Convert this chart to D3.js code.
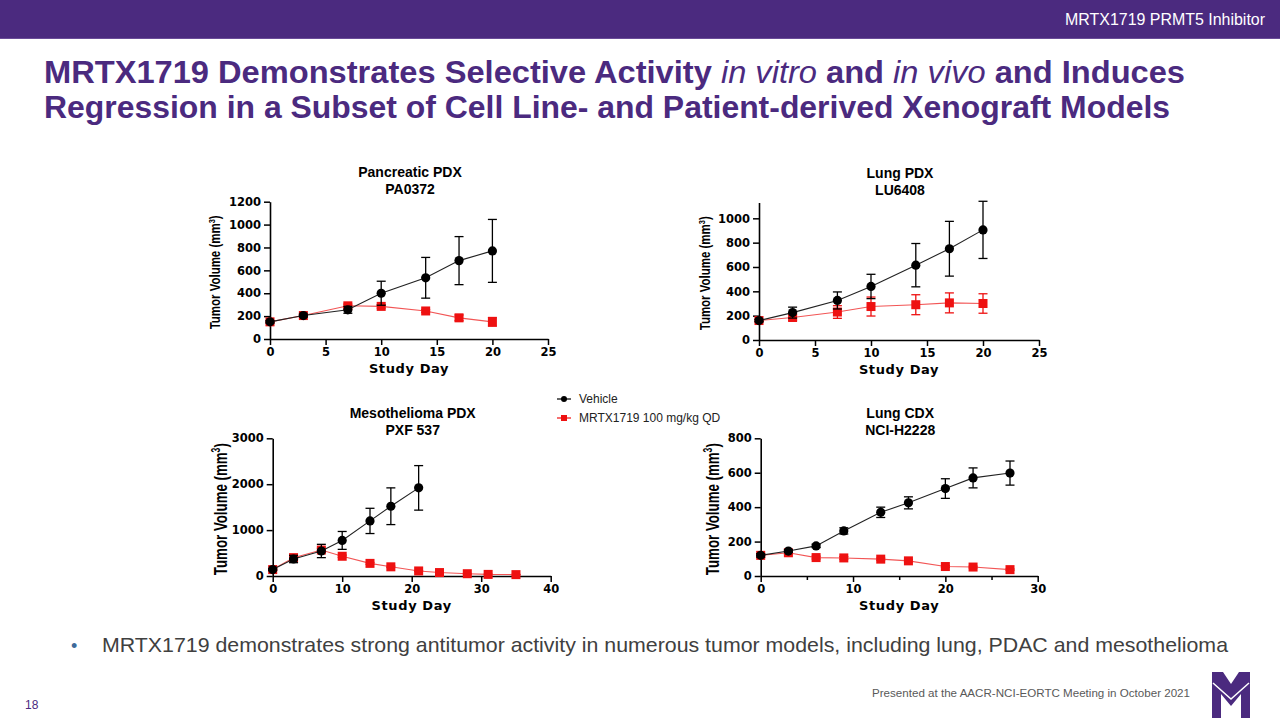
<!DOCTYPE html>
<html><head><meta charset="utf-8">
<script src="https://cdn.jsdelivr.net/npm/d3@7"></script>
<style>
html,body{margin:0;padding:0;background:#fff;}
svg{display:block;}
</style></head>
<body>
<svg id="c" width="1280" height="720"></svg>
<script>
// ---------- DATA ----------
const panelTitles = [["Pancreatic PDX","PA0372"],["Lung PDX","LU6408"],["Mesothelioma PDX","PXF 537"],["Lung CDX","NCI-H2228"]];
const seriesNames = ["Vehicle","MRTX1719 100 mg/kg QD"];

// Pancreatic PDX PA0372
const p1Days = [0,3,7,10,14,17,20];
const p1VehMean = [150,205,255,400,535,685,770];
const p1VehSem  = [10,12,30,105,178,210,275];
const p1TrtMean = [150,205,290,285,245,185,150];
const p1TrtSem  = [8,10,15,15,12,25,38];
const p1YTicks = [0,200,400,600,800,1000,1200];
const p1XTicks = [0,5,10,15,20,25];

// Lung PDX LU6408
const p2Days = [0,3,7,10,14,17,20];
const p2VehMean = [160,225,325,440,615,750,905];
const p2VehSem  = [10,45,70,100,178,225,235];
const p2TrtMean = [160,185,230,275,290,305,300];
const p2TrtSem  = [10,22,52,78,82,82,80];
const p2YTicks = [0,200,400,600,800,1000];
const p2XTicks = [0,5,10,15,20,25];

// Mesothelioma PDX PXF 537
const p3VehDays = [0,3,7,10,14,17,21];
const p3VehMean = [140,370,545,775,1200,1520,1920];
const p3VehSem  = [20,80,145,195,275,400,485];
const p3TrtDays = [0,3,7,10,14,17,21,24,28,31,35];
const p3TrtMean = [140,400,565,430,275,200,110,75,50,35,30];
const p3TrtSem  = [15,30,40,25,20,15,10,8,6,5,5];
const p3YTicks = [0,1000,2000,3000];
const p3XTicks = [0,10,20,30,40];

// Lung CDX NCI-H2228
const p4Days = [0,3,6,9,13,16,20,23,27];
const p4VehMean = [120,145,175,262,370,425,508,570,598];
const p4VehSem  = [10,8,10,18,30,35,57,58,70];
const p4TrtMean = [120,135,107,105,98,88,55,52,37];
const p4TrtSem  = [10,8,8,8,6,6,5,5,4];
const p4YTicks = [0,200,400,600,800];
const p4XTicks = [0,10,20,30];
const p4XMinor = [5,15,25];

// ---------- LAYOUT ----------
const purple = "#4b2a7f";
const red = "#ee1111";
const svg = d3.select("#c");

// top bar
svg.append("rect").attr("x",0).attr("y",0).attr("width",1280).attr("height",38).attr("fill",purple);
svg.append("line").attr("x1",0).attr("x2",1280).attr("y1",38.5).attr("y2",38.5).attr("stroke","#6a4c98").attr("stroke-width",1);
svg.append("text").attr("x",1265).attr("y",25).attr("text-anchor","end")
  .attr("font-family","Liberation Sans, Arial, sans-serif").attr("font-size",16).attr("fill","#fff")
  .attr("textLength",200).attr("lengthAdjust","spacingAndGlyphs")
  .text("MRTX1719 PRMT5 Inhibitor");

// slide title
const t1 = svg.append("text").attr("x",44).attr("y",83).attr("fill",purple)
  .attr("font-family","Liberation Sans, Arial, sans-serif").attr("font-weight","bold").attr("font-size",31)
  .attr("textLength",1141).attr("lengthAdjust","spacingAndGlyphs");
t1.append("tspan").text("MRTX1719 Demonstrates Selective Activity ");
t1.append("tspan").attr("font-style","italic").attr("font-weight","normal").text("in vitro");
t1.append("tspan").text(" and ");
t1.append("tspan").attr("font-style","italic").attr("font-weight","normal").text("in vivo");
t1.append("tspan").text(" and Induces");
svg.append("text").attr("x",44).attr("y",118).attr("fill",purple)
  .attr("font-family","Liberation Sans, Arial, sans-serif").attr("font-weight","bold").attr("font-size",31)
  .attr("textLength",1126).attr("lengthAdjust","spacingAndGlyphs")
  .text("Regression in a Subset of Cell Line- and Patient-derived Xenograft Models");

// bullet
svg.append("text").attr("x",71).attr("y",652).attr("fill","#3d6a9a")
  .attr("font-family","Liberation Sans, Arial, sans-serif").attr("font-size",18).text("•");
svg.append("text").attr("x",102).attr("y",652).attr("fill","#404040")
  .attr("font-family","Liberation Sans, Arial, sans-serif").attr("font-size",21)
  .attr("textLength",1126).attr("lengthAdjust","spacingAndGlyphs")
  .text("MRTX1719 demonstrates strong antitumor activity in numerous tumor models, including lung, PDAC and mesothelioma");

// footer
svg.append("text").attr("x",1190).attr("y",697).attr("text-anchor","end").attr("fill","#595959")
  .attr("font-family","Liberation Sans, Arial, sans-serif").attr("font-size",11)
  .attr("textLength",318).attr("lengthAdjust","spacingAndGlyphs")
  .text("Presented at the AACR-NCI-EORTC Meeting in October 2021");
svg.append("text").attr("x",25).attr("y",709).attr("fill",purple)
  .attr("font-family","Liberation Sans, Arial, sans-serif").attr("font-size",12).text("18");

// logo (M)
svg.append("path").attr("fill",purple).attr("d",
  "M1212,672 L1223,672 L1231,684 L1239,672 L1250,672 L1250,718 L1241,718 L1241,694 L1231,706 L1221,694 L1221,718 L1212,718 Z");
svg.append("path").attr("fill","none").attr("stroke","#fff").attr("stroke-width",1.5)
  .attr("d","M1213,683 L1231,699 L1249,683");

// ---------- PANELS ----------
const panels = [
  {title:panelTitles[0], px:[270,548], py:[339,201.7], yd:[0,1200], xd:[0,25], yt:p1YTicks, xt:p1XTicks, minor:[],
   veh:{d:p1Days,m:p1VehMean,s:p1VehSem}, trt:{d:p1Days,m:p1TrtMean,s:p1TrtSem}, labX:220, labFs:15, labLen:114, tOff:25},
  {title:panelTitles[1], px:[759,1039], py:[340,202.5], yd:[0,1130], xd:[0,25], yt:p2YTicks, xt:p2XTicks, minor:[],
   veh:{d:p2Days,m:p2VehMean,s:p2VehSem}, trt:{d:p2Days,m:p2TrtMean,s:p2TrtSem}, labX:710, labFs:15, labLen:114, tOff:25},
  {title:panelTitles[2], px:[272.7,550.7], py:[576,438.3], yd:[0,3000], xd:[0,40], yt:p3YTicks, xt:p3XTicks, minor:[],
   veh:{d:p3VehDays,m:p3VehMean,s:p3VehSem}, trt:{d:p3TrtDays,m:p3TrtMean,s:p3TrtSem}, labX:227, labFs:19, labLen:132, tOff:20},
  {title:panelTitles[3], px:[760.7,1037.7], py:[576,438.3], yd:[0,800], xd:[0,30], yt:p4YTicks, xt:p4XTicks, minor:p4XMinor,
   veh:{d:p4Days,m:p4VehMean,s:p4VehSem}, trt:{d:p4Days,m:p4TrtMean,s:p4TrtSem}, labX:719, labFs:19, labLen:132, tOff:20}
];

const tickFont = "DejaVu Sans, Verdana, sans-serif";
const labFont = "Liberation Sans Narrow, Arial Narrow, Liberation Sans, Arial, sans-serif";

panels.forEach(p => {
  const x = d3.scaleLinear().domain(p.xd).range(p.px);
  const y = d3.scaleLinear().domain(p.yd).range(p.py);
  const g = svg.append("g");

  // axes
  g.append("g").attr("transform",`translate(${p.px[0]},0)`)
    .call(d3.axisLeft(y).tickValues(p.yt).tickSize(6).tickSizeOuter(0).tickPadding(3).tickFormat(d3.format("d")));
  g.append("g").attr("transform",`translate(0,${p.py[0]})`)
    .call(d3.axisBottom(x).tickValues(p.xt).tickSize(6).tickSizeOuter(0).tickPadding(3).tickFormat(d3.format("d")));
  if (p.minor.length) {
    g.append("g").attr("transform",`translate(0,${p.py[0]})`)
      .call(d3.axisBottom(x).tickValues(p.minor).tickSize(4).tickSizeOuter(0).tickFormat(""))
      .select(".domain").remove();
  }
  g.selectAll(".domain").attr("stroke","#000").attr("stroke-width",1.6);
  g.selectAll(".tick line").attr("stroke","#000").attr("stroke-width",1.5);
  g.selectAll(".tick text").attr("font-family",tickFont).attr("font-weight","bold").attr("font-size",11.5).attr("fill","#000");

  // title
  const cx = (p.px[0]+p.px[1])/2 + 1;
  p.title.forEach((t,i) => {
    g.append("text").attr("x",cx).attr("y",p.py[1] - p.tOff + i*17).attr("text-anchor","middle")
      .attr("font-family","Liberation Sans, Arial, sans-serif").attr("font-weight","bold").attr("font-size",14)
      .attr("fill","#000").text(t);
  });

  // x label
  g.append("text").attr("x",(p.px[0]+p.px[1])/2).attr("y",p.py[0]+34).attr("text-anchor","middle")
    .attr("font-family",tickFont).attr("font-weight","bold").attr("font-size",13).attr("fill","#000")
    .attr("letter-spacing",0.6).text("Study Day");

  // y label
  const ly = (p.py[0]+p.py[1])/2 + 2;
  const yl = g.append("text").attr("transform",`translate(${p.labX},${ly}) rotate(-90)`).attr("text-anchor","middle")
    .attr("font-family",labFont).attr("font-weight","bold").attr("font-size",p.labFs).attr("fill","#000")
    .attr("textLength",p.labLen).attr("lengthAdjust","spacingAndGlyphs");
  yl.append("tspan").text("Tumor Volume (mm");
  yl.append("tspan").attr("baseline-shift","super").attr("font-size",p.labFs*0.65).text("3");
  yl.append("tspan").attr("baseline-shift","0").text(")");

  // series draw helper
  function drawSeries(s, color, lineColor, shape) {
    const pts = s.d.map((d,i)=>({d, m:s.m[i], e:s.s[i]}));
    const eb = g.append("g").attr("stroke",color).attr("stroke-width",1.3).attr("fill","none");
    pts.forEach(pt => {
      const xx = x(pt.d), yt = y(pt.m+pt.e), yb = y(pt.m-pt.e);
      eb.append("line").attr("x1",xx).attr("x2",xx).attr("y1",yt).attr("y2",yb);
      eb.append("line").attr("x1",xx-4.5).attr("x2",xx+4.5).attr("y1",yt).attr("y2",yt);
      eb.append("line").attr("x1",xx-4.5).attr("x2",xx+4.5).attr("y1",yb).attr("y2",yb);
    });
    g.append("path").datum(pts).attr("fill","none").attr("stroke",lineColor).attr("stroke-width",1.1)
      .attr("d", d3.line().x(d=>x(d.d)).y(d=>y(d.m)));
    if (shape==="circle") {
      g.selectAll(null).data(pts).enter().append("circle")
        .attr("cx",d=>x(d.d)).attr("cy",d=>y(d.m)).attr("r",4.6).attr("fill",color);
    } else {
      g.selectAll(null).data(pts).enter().append("rect")
        .attr("x",d=>x(d.d)-4.5).attr("y",d=>y(d.m)-4.5).attr("width",9).attr("height",9).attr("fill",color);
    }
  }
  drawSeries(p.trt, red, "#f25555", "square");
  drawSeries(p.veh, "#000", "#222", "circle");
});

// legend
const lg = svg.append("g");
[[399,"#000","circle"],[418,red,"square"]].forEach((l,i)=>{
  lg.append("line").attr("x1",557).attr("x2",571).attr("y1",l[0]).attr("y2",l[0]).attr("stroke",l[1]).attr("stroke-width",1.2);
  if (l[2]==="circle") lg.append("circle").attr("cx",564).attr("cy",l[0]).attr("r",3).attr("fill",l[1]);
  else lg.append("rect").attr("x",561).attr("y",l[0]-3).attr("width",6).attr("height",6).attr("fill",l[1]);
  lg.append("text").attr("x",579).attr("y",l[0]+4).attr("font-family","Liberation Sans, Arial, sans-serif")
    .attr("font-size",12).attr("fill","#222").text(seriesNames[i]);
});
</script>
</body></html>
